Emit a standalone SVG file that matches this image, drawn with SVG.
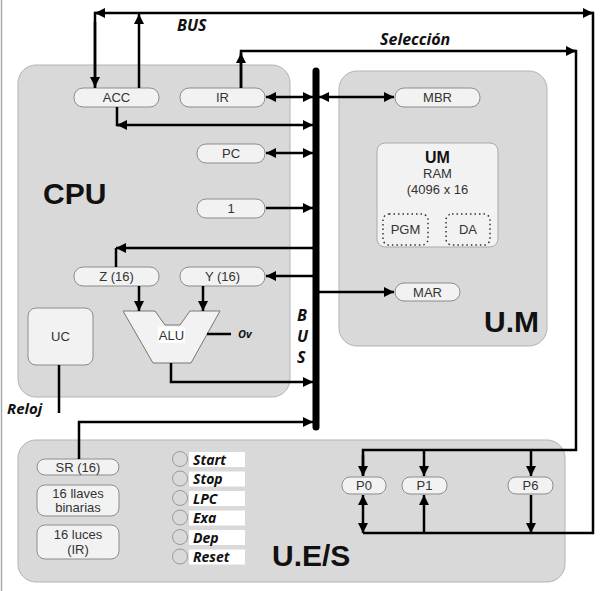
<svg xmlns="http://www.w3.org/2000/svg" width="607" height="591" viewBox="0 0 607 591">
<defs>
<marker id="ah" markerUnits="userSpaceOnUse" markerWidth="11" markerHeight="11" refX="10" refY="5" orient="auto-start-reverse"><path d="M0,0 L10,5 L0,10 z" fill="#000"/></marker>
<style>
.cont{fill:#d9d9d9;stroke:#b3b3b3;stroke-width:1}
.node{fill:#f2f2f2;stroke:#8c8c8c;stroke-width:1}
.nt{font-family:"Liberation Sans",Arial,sans-serif;font-size:13px;fill:#333;text-anchor:middle}
.big{font-family:"Liberation Sans",Arial,sans-serif;font-size:30px;font-weight:bold;fill:#111}
.lab{font-family:"Open Sans","Liberation Sans",sans-serif;font-size:14px;font-weight:bold;font-style:italic;fill:#111}
.c{fill:none;stroke:#000;stroke-width:2.5}
.a{marker-end:url(#ah)}
.aa{marker-start:url(#ah);marker-end:url(#ah)}
.dot{fill:none;stroke:#333;stroke-width:1.5;stroke-dasharray:1.5 3}
.led{fill:#d9d9d9;stroke:#999;stroke-width:1}
</style>
</defs>
<rect width="607" height="591" fill="#fff"/>
<line x1="1.5" y1="0" x2="1.5" y2="591" stroke="#aaa" stroke-width="1.5"/>

<g id="cpu">
<rect class="cont" x="18" y="65" width="272" height="332" rx="18"/>
<text class="big" x="43" y="204">CPU</text>
</g>
<g id="um">
<rect class="cont" x="339" y="71" width="208" height="275" rx="18"/>
<text class="big" x="484" y="332">U.M</text>
</g>
<g id="ues">
<rect class="cont" x="18" y="440" width="547" height="142" rx="18"/>
<text class="big" x="272" y="566">U.E/S</text>
</g>

<g id="acc"><rect class="node" x="74" y="88" width="85" height="19" rx="9"/><text class="nt" x="116.5" y="102">ACC</text></g>
<g id="ir"><rect class="node" x="180" y="88" width="85" height="19" rx="9"/><text class="nt" x="222.5" y="102">IR</text></g>
<g id="pc"><rect class="node" x="197" y="144" width="68" height="19" rx="9"/><text class="nt" x="231" y="158">PC</text></g>
<g id="one"><rect class="node" x="197" y="199" width="68" height="19" rx="9"/><text class="nt" x="231" y="213">1</text></g>
<g id="z"><rect class="node" x="74" y="267" width="85" height="19" rx="9"/><text class="nt" x="116.5" y="281">Z (16)</text></g>
<g id="y"><rect class="node" x="180" y="267" width="85" height="19" rx="9"/><text class="nt" x="222.5" y="281">Y (16)</text></g>
<g id="uc"><rect class="node" x="28" y="308" width="65" height="57" rx="8"/><text class="nt" x="60.5" y="341">UC</text></g>
<g id="alu">
<polygon points="123,311 155,311 165,325 180,325 190,311 220,311 191,363 153,363" fill="#f2f2f2" stroke="#777" stroke-width="1"/>
<rect x="158" y="327" width="27" height="16" fill="#fff"/>
<text class="nt" x="171.5" y="340">ALU</text>
</g>

<g id="mbr"><rect class="node" x="395" y="88" width="85" height="19" rx="9"/><text class="nt" x="437.5" y="102">MBR</text></g>
<g id="ram">
<rect x="377" y="143" width="121" height="104" rx="8" fill="#f2f2f2" stroke="#aaa" stroke-width="1"/>
<text class="nt" x="437.5" y="163" style="font-weight:bold;font-size:16px;fill:#111">UM</text>
<text class="nt" x="437.5" y="178">RAM</text>
<text class="nt" x="437.5" y="194">(4096 x 16</text>
</g>
<g id="pgm"><rect class="dot" x="383" y="214" width="45" height="31" rx="6"/><text class="nt" x="405.5" y="234">PGM</text></g>
<g id="da"><rect class="dot" x="446" y="214" width="44" height="31" rx="6"/><text class="nt" x="468" y="234">DA</text></g>
<g id="mar"><rect class="node" x="395" y="283" width="65" height="18" rx="9"/><text class="nt" x="427.5" y="297">MAR</text></g>

<g id="sr"><rect class="node" x="37" y="459" width="82" height="16" rx="8"/><text class="nt" x="78" y="472">SR (16)</text></g>
<g id="llaves"><rect class="node" x="37" y="485" width="82" height="31" rx="8"/><text class="nt" x="78" y="498">16 llaves</text><text class="nt" x="78" y="512">binarias</text></g>
<g id="luces"><rect class="node" x="37" y="525" width="82" height="34" rx="8"/><text class="nt" x="78" y="539">16 luces</text><text class="nt" x="78" y="554">(IR)</text></g>

<g id="controls">
<circle class="led" cx="180" cy="459" r="7.5"/><rect x="189" y="452" width="56" height="15" fill="#fff"/><text class="lab" x="193" y="464.5">Start</text>
<circle class="led" cx="180" cy="478.5" r="7.5"/><rect x="189" y="471.5" width="56" height="15" fill="#fff"/><text class="lab" x="193" y="484">Stop</text>
<circle class="led" cx="180" cy="498" r="7.5"/><rect x="189" y="491" width="56" height="15" fill="#fff"/><text class="lab" x="193" y="503.5">LPC</text>
<circle class="led" cx="180" cy="517.5" r="7.5"/><rect x="189" y="510.5" width="56" height="15" fill="#fff"/><text class="lab" x="193" y="523">Exa</text>
<circle class="led" cx="180" cy="537" r="7.5"/><rect x="189" y="530" width="56" height="15" fill="#fff"/><text class="lab" x="193" y="542.5">Dep</text>
<circle class="led" cx="180" cy="556.5" r="7.5"/><rect x="189" y="549.5" width="56" height="15" fill="#fff"/><text class="lab" x="193" y="562">Reset</text>
</g>

<g id="p0"><rect class="node" x="342" y="477" width="44" height="17" rx="8"/><text class="nt" x="364" y="490">P0</text></g>
<g id="p1"><rect class="node" x="402" y="477" width="45" height="17" rx="8"/><text class="nt" x="424.5" y="490">P1</text></g>
<g id="p6"><rect class="node" x="508" y="477" width="45" height="17" rx="8"/><text class="nt" x="530.5" y="490">P6</text></g>

<g id="labels">
<text class="lab" x="177" y="31" style="font-size:16px">BUS</text>
<text class="lab" x="380" y="45" style="font-size:16px">Selección</text>
<text class="lab" x="297" y="321" style="font-size:16px">B</text>
<text class="lab" x="297" y="342" style="font-size:16px">U</text>
<text class="lab" x="297" y="363" style="font-size:16px">S</text>
<text class="lab" x="238" y="338" style="font-size:11px">Ov</text>
<text class="lab" x="7" y="414" style="font-size:15px">Reloj</text>
</g>

<g id="connectors">
<line x1="316" y1="71" x2="316" y2="427" stroke="#000" stroke-width="7" stroke-linecap="round"/>
<path class="c" d="M95,88 V13 H593 V533 H363"/>
<path class="c a" d="M95,22 V87"/>
<path class="c a" d="M105,13 H95"/>
<path class="c a" d="M583,13 H593"/>
<path class="c a" d="M139,88 V14"/>
<path class="c" d="M241,88 V51 H576 V450 H363 V476"/>
<path class="c a" d="M241,88 V53"/>
<path class="c a" d="M566,51 H576"/>
<path class="c a" d="M363,455 V476"/>
<path class="c a" d="M424,450 V476"/>
<path class="c a" d="M531,450 V476"/>
<path class="c aa" d="M363,533 V495"/>
<path class="c a" d="M424,533 V495"/>
<path class="c a" d="M531,495 V533"/>
<path class="c a" d="M117,107 V125 H313"/>
<path class="c a" d="M127,125 H117"/>
<path class="c aa" d="M266,97 H313"/>
<path class="c aa" d="M319,97 H394"/>
<path class="c aa" d="M266,153 H313"/>
<path class="c a" d="M266,208 H313"/>
<path class="c a" d="M316,248 H116"/>
<path class="c" d="M116,248 V267"/>
<path class="c a" d="M316,276 H266"/>
<path class="c a" d="M316,292 H394"/>
<path class="c a" d="M139,286 V311"/>
<path class="c a" d="M203,286 V311"/>
<path class="c a" d="M171,363 V382 H313"/>
<path class="c a" d="M79,459 V422 H313"/>
<path class="c" d="M59,365 V413"/>
<path class="c" d="M207,334 H231"/>
</g>
</svg>
